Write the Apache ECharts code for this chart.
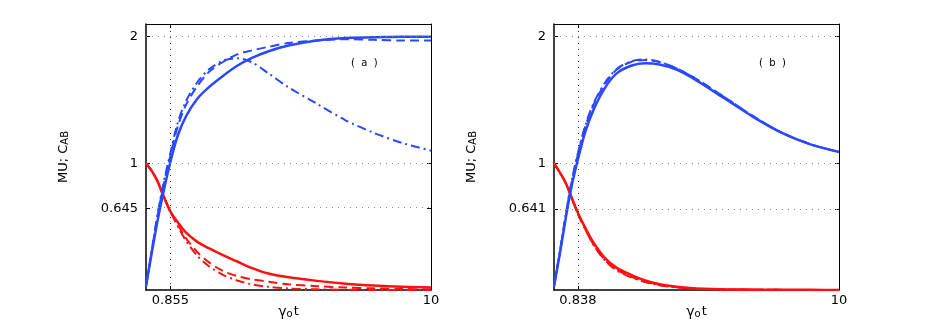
<!DOCTYPE html>
<html>
<head>
<meta charset="utf-8">
<script src="https://cdn.jsdelivr.net/npm/echarts@6/dist/echarts.min.js"></script>
<style>
  html, body { margin: 0; padding: 0; background: #fff; }
  #chart { width: 926px; height: 327px; }
</style>
</head>
<body>
<div id="chart"></div>
<script>
// time samples (gamma_0 t) for each panel
const tA = [0, 0.2, 0.4, 0.6, 0.855, 1.1, 1.4, 1.8, 2.2, 2.7, 3.2, 3.7, 4.3, 5, 6, 7, 8, 9, 10];
const tB = [0, 0.2, 0.4, 0.6, 0.838, 1.1, 1.4, 1.8, 2.2, 2.7, 3.2, 3.7, 4.3, 5, 6, 7, 8, 9, 10];

// panel (a)
const aBlueSolid   = [0.03, 0.29, 0.54, 0.76, 1.01, 1.21, 1.37, 1.51, 1.60, 1.69, 1.77, 1.83, 1.885, 1.93, 1.97, 1.99, 1.995, 2.0, 2.0];
const aBlueDash    = [0.03, 0.31, 0.58, 0.81, 1.06, 1.28, 1.46, 1.61, 1.72, 1.80, 1.86, 1.89, 1.92, 1.95, 1.97, 1.98, 1.975, 1.97, 1.97];
const aBlueDashDot = [0.03, 0.31, 0.59, 0.83, 1.08, 1.31, 1.49, 1.64, 1.74, 1.81, 1.83, 1.80, 1.71, 1.60, 1.47, 1.34, 1.24, 1.16, 1.10];
const aRedSolid    = [1.0, 0.94, 0.86, 0.75, 0.62, 0.54, 0.455, 0.38, 0.33, 0.275, 0.225, 0.175, 0.13, 0.10, 0.072, 0.05, 0.035, 0.025, 0.02];
const aRedDash     = [1.0, 0.94, 0.86, 0.75, 0.62, 0.52, 0.41, 0.30, 0.22, 0.15, 0.11, 0.085, 0.065, 0.045, 0.03, 0.02, 0.013, 0.008, 0.005];
const aRedDashDot  = [1.0, 0.94, 0.86, 0.75, 0.62, 0.51, 0.39, 0.27, 0.19, 0.12, 0.075, 0.045, 0.025, 0.012, 0.005, 0.002, 0, 0, 0];

// panel (b)
const bBlueSolid   = [0.03, 0.28, 0.55, 0.80, 1.03, 1.25, 1.43, 1.60, 1.71, 1.77, 1.79, 1.78, 1.74, 1.655, 1.51, 1.365, 1.24, 1.15, 1.09];
const bBlueDash    = [0.03, 0.29, 0.57, 0.83, 1.07, 1.29, 1.47, 1.63, 1.74, 1.80, 1.815, 1.80, 1.75, 1.665, 1.52, 1.37, 1.24, 1.15, 1.09];
const bBlueDashDot = [0.03, 0.30, 0.58, 0.84, 1.08, 1.30, 1.48, 1.64, 1.745, 1.805, 1.82, 1.80, 1.75, 1.665, 1.52, 1.37, 1.24, 1.15, 1.09];
const bRedSolid    = [1.0, 0.93, 0.85, 0.74, 0.61, 0.49, 0.37, 0.25, 0.175, 0.12, 0.075, 0.045, 0.025, 0.012, 0.006, 0.003, 0.002, 0.001, 0];
const bRedDash     = [1.0, 0.93, 0.85, 0.74, 0.60, 0.48, 0.355, 0.235, 0.16, 0.105, 0.065, 0.04, 0.022, 0.01, 0.005, 0.002, 0.001, 0, 0];
const bRedDashDot  = [1.0, 0.93, 0.85, 0.74, 0.60, 0.48, 0.35, 0.23, 0.155, 0.10, 0.062, 0.038, 0.02, 0.009, 0.004, 0.002, 0.001, 0, 0];

// tick positions / labels
const xTicksA = [0.855, 10];
const xTicksB = [0.838, 10];
const yTicksA = [0.645, 1, 2];
const yTicksB = [0.641, 1, 2];
const panelLabels = ['(  a  )', '(  b  )'];

const BLUE = '#2a48ff';
const RED = '#ff1010';
const FONT = 'DejaVu Sans';

function zip(xs, ys) {
  return xs.map((x, i) => [x, ys[i]]);
}

function xAxes(grid, ticks) {
  return [
    {
      type: 'value', gridIndex: grid, min: 0, max: 10, position: 'bottom',
      name: '{g|γ}{s|o}{t|t}', nameLocation: 'middle', nameGap: 15, nameMoveOverlap: false,
      nameTextStyle: {
        rich: {
          g: { fontFamily: FONT, fontSize: 14, color: '#000', verticalAlign: 'top', lineHeight: 14 },
          s: { fontFamily: FONT, fontSize: 10, color: '#000', verticalAlign: 'bottom', lineHeight: 10, padding: [8, 1, 0, 0] },
          t: { fontFamily: FONT, fontSize: 13, color: '#000', verticalAlign: 'top', lineHeight: 12 }
        }
      },
      axisLine: { show: true, onZero: false, lineStyle: { color: '#000', width: 1.5 } },
      axisTick: { show: true, inside: true, length: 4, customValues: ticks, lineStyle: { color: '#000' } },
      axisLabel: { show: true, customValues: ticks, color: '#000', fontFamily: FONT, fontSize: 13, margin: 4 },
      splitLine: { show: false }
    },
    {
      type: 'value', gridIndex: grid, min: 0, max: 10, position: 'top',
      axisLine: { show: true, onZero: false, lineStyle: { color: '#000', width: 1 } },
      axisTick: { show: true, inside: true, length: 4, customValues: ticks, lineStyle: { color: '#000' } },
      axisLabel: { show: false },
      splitLine: { show: false }
    }
  ];
}

function yAxes(grid, ticks) {
  return [
    {
      type: 'value', gridIndex: grid, min: 0, max: 2.1, position: 'left',
      name: '{m|MU; C}{s|AB}', nameLocation: 'middle', nameRotate: 90, nameGap: 76, nameMoveOverlap: false,
      nameTextStyle: {
        rich: {
          m: { fontFamily: FONT, fontSize: 13, color: '#000', verticalAlign: 'top', lineHeight: 13 },
          s: { fontFamily: FONT, fontSize: 10, color: '#000', verticalAlign: 'bottom', lineHeight: 10, padding: [8, 0, 0, 0] }
        }
      },
      axisLine: { show: true, onZero: false, lineStyle: { color: '#000', width: 1.5 } },
      axisTick: { show: true, inside: true, length: 4, customValues: ticks, lineStyle: { color: '#000' } },
      axisLabel: { show: true, customValues: ticks, color: '#000', fontFamily: FONT, fontSize: 13, margin: 8 },
      splitLine: { show: false }
    },
    {
      type: 'value', gridIndex: grid, min: 0, max: 2.1, position: 'right',
      axisLine: { show: true, onZero: false, lineStyle: { color: '#000', width: 1 } },
      axisTick: { show: true, inside: true, length: 4, customValues: ticks, lineStyle: { color: '#000' } },
      axisLabel: { show: false },
      splitLine: { show: false }
    }
  ];
}

function curve(grid, xs, ys, color, dash, width) {
  return {
    type: 'line',
    xAxisIndex: grid * 2,
    yAxisIndex: grid * 2,
    data: zip(xs, ys),
    smooth: 0.3,
    showSymbol: false,
    symbol: 'none',
    lineStyle: { color: color, width: width, type: dash },
    z: 3
  };
}

function guides(xTicks, yTicks) {
  const data = [{ xAxis: xTicks[0], lineStyle: { color: '#333' } }];
  yTicks.forEach(v => data.push({ yAxis: v }));
  return {
    silent: true,
    symbol: 'none',
    label: { show: false },
    animation: false,
    lineStyle: { color: '#888', type: [1, 5], width: 1 },
    data: data
  };
}

const dashed = [9, 5];
const dashDot = [9, 4, 2, 4];

const seriesA = [
  curve(0, tA, aRedDashDot, RED, dashDot, 2),
  curve(0, tA, aRedDash, RED, dashed, 2),
  curve(0, tA, aRedSolid, RED, 'solid', 2.5),
  curve(0, tA, aBlueDashDot, BLUE, dashDot, 2),
  curve(0, tA, aBlueDash, BLUE, dashed, 2),
  curve(0, tA, aBlueSolid, BLUE, 'solid', 2.5)
];
seriesA[0].markLine = guides(xTicksA, yTicksA);

const seriesB = [
  curve(1, tB, bRedDashDot, RED, dashDot, 2),
  curve(1, tB, bRedDash, RED, dashed, 2),
  curve(1, tB, bRedSolid, RED, 'solid', 2.5),
  curve(1, tB, bBlueDashDot, BLUE, dashDot, 2),
  curve(1, tB, bBlueDash, BLUE, dashed, 2),
  curve(1, tB, bBlueSolid, BLUE, 'solid', 2.5)
];
seriesB[0].markLine = guides(xTicksB, yTicksB);

const option = {
  animation: false,
  backgroundColor: '#fff',
  grid: [
    { left: 146, top: 24, width: 285, height: 266, containLabel: false, outerBoundsMode: 'none' },
    { left: 554, top: 24, width: 285, height: 266, containLabel: false, outerBoundsMode: 'none' }
  ],
  xAxis: [...xAxes(0, xTicksA), ...xAxes(1, xTicksB)],
  yAxis: [...yAxes(0, yTicksA), ...yAxes(1, yTicksB)],
  graphic: [
    { type: 'text', left: 351, top: 58, style: { text: panelLabels[0], font: '10px ' + FONT, fill: '#000' } },
    { type: 'text', left: 759, top: 58, style: { text: panelLabels[1], font: '10px ' + FONT, fill: '#000' } }
  ],
  series: [...seriesA, ...seriesB]
};

const chart = echarts.init(document.getElementById('chart'), null, { renderer: 'canvas' });
chart.setOption(option);
</script>
</body>
</html>
